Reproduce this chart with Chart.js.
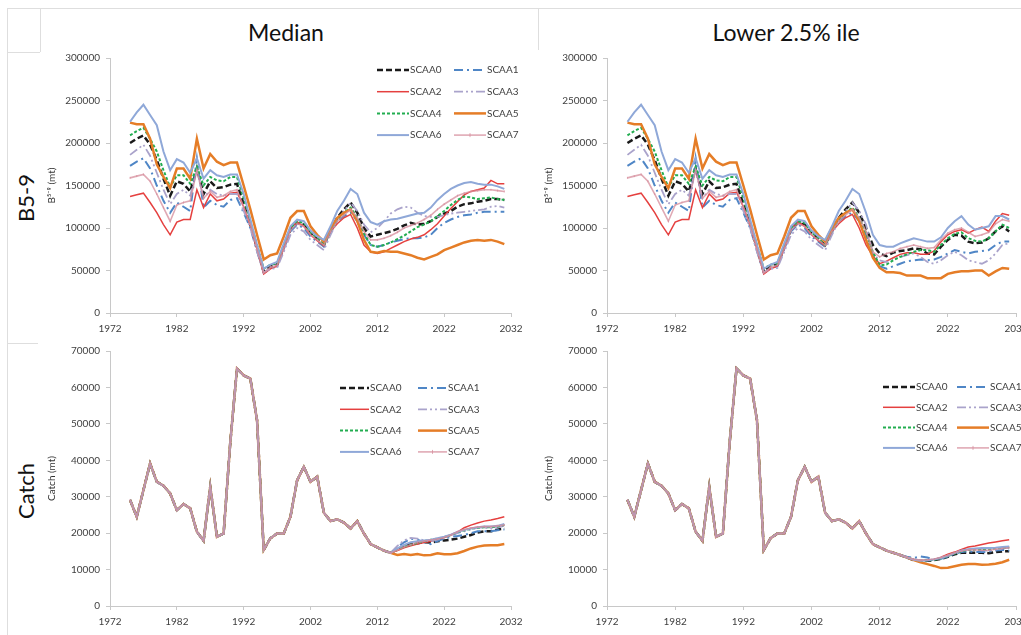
<!DOCTYPE html>
<html>
<head>
<meta charset="utf-8">
<script src="https://cdn.jsdelivr.net/npm/chart.js@4.4.0/dist/chart.umd.min.js"></script>
<style>
  body { margin: 0; background: #fff; width: 1021px; height: 635px; overflow: hidden; position: relative; font-family: Lato, "Open Sans", sans-serif; }
  canvas { position: absolute; }
  .title { position: absolute; font-size: 23px; color: #111; transform: translate(-50%, -50%); white-space: nowrap; }
  .rowlab { position: absolute; font-size: 22px; color: #111; transform: translate(-50%, -50%) rotate(-90deg); white-space: nowrap; }
  .ln { position: absolute; background: #dedede; }
</style>
</head>
<body>
<div class="ln" style="left:7px;top:8px;width:1014px;height:1px"></div>
<div class="ln" style="left:7px;top:8px;width:1px;height:627px"></div>
<div class="ln" style="left:40px;top:8px;width:1px;height:44px"></div>
<div class="ln" style="left:7px;top:52px;width:33px;height:1px"></div>
<div class="ln" style="left:538px;top:8px;width:1px;height:42px"></div>
<div class="ln" style="left:7px;top:343px;width:31px;height:1px"></div>

<div class="title" style="left:286px;top:32px">Median</div>
<div class="title" style="left:786px;top:32px">Lower 2.5% ile</div>
<div class="rowlab" style="left:25px;top:198px">B5-9</div>
<div class="rowlab" style="left:25px;top:491px">Catch</div>

<canvas id="b59Median" width="480" height="290" style="left:45px;top:48px"></canvas>
<canvas id="b59Lower" width="479" height="290" style="left:542px;top:48px"></canvas>
<canvas id="catchMedian" width="480" height="295" style="left:45px;top:340px"></canvas>
<canvas id="catchLower" width="479" height="295" style="left:542px;top:340px"></canvas>

<script>
// Séries et années
const seriesNames = ["SCAA0", "SCAA1", "SCAA2", "SCAA3", "SCAA4", "SCAA5", "SCAA6", "SCAA7"];
const years = Array.from({ length: 57 }, (_, i) => 1975 + i); // 1975..2031

// B5-9 (thousand mt), 1975-2010, one row per series (same in both panels)
const b59Hist = [
  [200,205,209,198,180,158,138,155,152,143,170,140,155,147,148,151,152,128,104,76,49,55,57,78,98,106,104,94,87,80,97,112,122,130,118,100],
  [173,178,182,170,150,132,118,130,125,120,182,124,132,127,125,133,135,118,100,73,47,53,55,75,96,104,100,90,84,78,95,108,114,118,108,92],
  [137,139,141,130,118,104,92,107,110,110,145,124,140,132,134,141,142,125,103,75,46,52,55,76,100,107,102,92,85,79,96,105,112,116,100,80],
  [186,192,198,185,165,145,128,140,145,138,168,135,145,140,138,140,140,120,100,72,48,52,53,72,92,100,96,86,80,74,92,108,120,130,120,104],
  [209,214,218,205,190,168,148,162,162,152,172,150,160,156,155,160,160,135,108,80,52,57,58,80,100,108,106,95,88,80,97,110,118,124,112,94],
  [224,222,222,205,175,160,147,170,170,158,205,170,187,178,174,177,177,150,122,92,63,68,70,90,112,120,120,102,92,84,100,112,118,122,108,86],
  [225,236,245,233,221,190,168,181,177,165,182,158,168,162,160,163,163,140,110,80,52,57,60,82,102,110,108,97,90,86,102,120,132,146,140,118],
  [159,161,163,155,140,124,108,127,130,132,168,135,143,136,138,143,145,125,104,75,47,54,56,76,97,105,102,92,86,80,96,108,115,122,112,96]
];

// B5-9 projections 2011-2031, median
const b59MedianProj = [
  [90,92,94,96,99,103,106,104,105,108,113,117,120,125,128,129,131,132,134,134,133],
  [80,78,80,83,85,87,88,88,89,92,100,106,110,113,115,116,118,119,119,119,119],
  [72,70,72,76,80,84,87,89,92,98,105,114,123,131,139,143,145,147,156,152,152],
  [95,100,108,117,122,125,124,118,114,113,113,115,117,118,119,120,121,122,125,126,124],
  [80,78,80,83,87,91,96,101,104,108,114,120,127,133,137,136,134,135,136,134,133],
  [72,71,73,72,72,70,68,65,63,66,69,74,77,80,83,85,86,85,86,84,81],
  [107,104,108,110,111,113,115,117,118,124,133,140,146,150,153,154,152,151,151,149,146],
  [86,86,88,91,95,100,103,106,110,115,122,128,133,138,141,143,144,145,145,144,143]
];

// B5-9 projections 2011-2031, lower 2.5%
const b59LowerProj = [
  [80,70,67,71,73,74,76,75,70,69,78,86,92,91,84,82,83,88,96,102,96],
  [68,55,52,55,58,61,62,63,62,63,66,70,74,72,70,72,73,74,80,84,84],
  [67,58,61,65,69,71,71,69,69,73,84,92,96,98,94,98,101,96,108,117,115],
  [70,62,60,63,66,68,70,66,60,58,62,68,72,68,62,60,58,62,70,80,82],
  [72,56,57,62,66,69,72,74,74,72,80,88,93,95,88,85,84,88,96,104,100],
  [65,53,48,48,47,44,44,44,41,41,41,46,48,49,49,50,50,44,49,53,52],
  [92,80,78,78,82,85,88,86,84,84,89,100,108,114,104,98,100,102,114,114,110],
  [72,66,70,72,76,78,80,78,76,77,86,94,98,100,95,90,92,95,105,110,108]
];

// Catch (thousand mt), 1975-2014 (same for all series)
const catchHist = [29.1,24.5,31.8,39.1,34.1,33.0,30.9,26.3,28.0,26.8,20.4,17.9,32.7,19.0,19.9,45.0,65.2,63.3,62.4,51.0,
  15.4,18.6,19.9,19.9,24.5,34.5,38.2,34.1,35.5,25.6,23.3,23.8,22.9,21.3,23.3,19.9,17.0,16.1,15.2,14.6];

// Catch projections 2015-2031, median
const catchMedianProj = [
  [15.5,16.5,17.0,17.2,17.5,17.4,17.8,18.0,18.2,18.5,19.0,19.5,20.2,20.5,20.5,21.0,21.2],
  [16.2,17.5,18.5,18.2,17.5,17.0,17.8,18.5,19.0,19.2,19.5,20.0,20.5,20.5,20.5,20.8,21.0],
  [15.2,16.0,16.5,17.0,17.4,17.8,18.3,18.8,19.5,20.3,21.5,22.2,22.8,23.3,23.6,24.0,24.5],
  [16.5,18.0,18.7,18.5,18.0,17.8,18.2,18.8,19.3,20.0,20.5,21.0,21.5,21.5,21.3,21.5,22.0],
  [15.5,16.3,16.8,17.3,17.8,18.2,18.5,18.9,19.5,20.2,20.8,21.2,21.5,21.6,21.6,21.8,22.3],
  [14.0,14.3,14.0,14.3,13.9,14.0,14.5,14.2,14.2,14.5,15.1,15.8,16.3,16.6,16.7,16.7,17.0],
  [15.8,16.8,17.5,17.8,18.0,18.2,18.6,19.0,19.6,20.3,20.9,21.3,21.6,21.8,21.8,22.0,22.5],
  [15.3,16.2,16.8,17.4,17.8,18.1,18.4,18.8,19.5,20.4,21.0,21.4,21.7,21.8,21.8,22.0,22.2]
];

// Catch projections 2015-2031, lower 2.5%
const catchLowerProj = [
  [14.0,13.3,12.6,12.3,12.4,12.6,12.9,13.5,14.2,14.6,14.6,14.6,14.6,14.5,14.8,15.0,15.0],
  [14.1,13.5,13.2,13.6,13.3,12.8,13.0,13.6,14.4,14.8,15.0,14.8,14.8,14.9,15.2,15.4,15.2],
  [14.0,13.3,12.8,12.5,12.6,12.8,13.4,14.2,14.8,15.5,16.2,16.5,16.9,17.3,17.6,17.9,18.2],
  [14.0,13.4,12.8,12.6,12.6,12.8,13.2,13.8,14.6,15.2,15.5,15.5,15.3,15.2,15.5,15.8,16.0],
  [14.0,13.3,12.7,12.4,12.5,12.7,13.1,13.7,14.4,15.0,15.4,15.5,15.6,15.6,15.8,16.0,16.1],
  [14.0,13.3,12.6,12.0,11.5,11.0,10.4,10.5,10.9,11.3,11.5,11.5,11.3,11.4,11.6,12.0,12.7],
  [14.0,13.3,12.7,12.4,12.5,12.8,13.2,13.8,14.5,15.2,15.6,15.8,15.9,15.9,16.0,16.2,16.3],
  [14.0,13.4,12.8,12.6,12.7,12.9,13.3,13.9,14.6,15.1,15.4,15.4,15.3,15.3,15.6,15.8,16.0]
];

// Styles des séries
const seriesColors = ["#1a1a1a", "#4f86c6", "#e5403f", "#aaa3cb", "#22ad50", "#e57d27", "#8fa8d8", "rgba(214,140,155,0.75)"];
const seriesDash = [[6, 3], [9, 4, 2, 4], [], [9, 3, 2, 3, 2, 3], [3, 2], [], [], []];
const seriesWidth = [2.5, 2, 1.5, 1.8, 2, 2.5, 2, 1.6];

function buildDatasets(hist, proj) {
  return seriesNames.map((name, i) => {
    const values = (Array.isArray(hist[0]) ? hist[i] : hist).concat(proj[i]);
    return {
      label: name,
      data: years.map((yr, k) => ({ x: yr, y: values[k] * 1000 })),
      borderColor: seriesColors[i],
      borderWidth: seriesWidth[i],
      borderDash: seriesDash[i],
      pointRadius: i === 7 ? 1 : 0,
      pointStyle: "line",
      pointRotation: 90,
      pointBorderWidth: 1,
      pointBorderColor: seriesColors[i],
      tension: 0,
      order: 7 - i,
    };
  });
}

// Légende en grille 2 colonnes x 4 lignes
const gridLegend = {
  id: "gridLegend",
  afterDraw(chart, args, opts) {
    const ctx = chart.ctx;
    ctx.save();
    ctx.font = "10px Lato, sans-serif";
    ctx.textBaseline = "middle";
    chart.data.datasets.forEach((ds, i) => {
      const x = opts.x + (i % 2) * opts.colW;
      const y = opts.y + Math.floor(i / 2) * opts.rowH;
      ctx.save();
      ctx.strokeStyle = ds.borderColor;
      ctx.lineWidth = ds.borderWidth;
      ctx.setLineDash(ds.borderDash);
      ctx.beginPath();
      ctx.moveTo(x, y);
      ctx.lineTo(x + opts.lineW, y);
      ctx.stroke();
      if (ds.pointRadius) {
        ctx.setLineDash([]);
        ctx.lineWidth = 1;
        ctx.beginPath();
        ctx.moveTo(x + opts.lineW / 2, y - 2);
        ctx.lineTo(x + opts.lineW / 2, y + 2);
        ctx.stroke();
      }
      ctx.restore();
      ctx.fillStyle = "#404040";
      ctx.fillText(ds.label, x + opts.lineW + 1, y);
    });
    ctx.restore();
  },
};

function buildChart(id, datasets, yMax, yStep, yTitle, xAxisH, pad, legend) {
  const ctx = document.getElementById(id).getContext("2d");
  return new Chart(ctx, {
    type: "line",
    data: { datasets },
    plugins: [gridLegend],
    options: {
      responsive: false,
      animation: false,
      layout: { padding: pad },
      scales: {
        x: {
          type: "linear",
          min: 1972,
          max: 2032,
          ticks: { stepSize: 10, color: "#404040", font: { size: 10, family: "Lato" }, padding: 6, maxRotation: 0, callback: (v) => String(v) },
          grid: { drawOnChartArea: false, drawTicks: true, tickLength: 4, color: "#c8c8c8" },
          border: { color: "#c8c8c8" },
          afterFit: (s) => { s.height = xAxisH; s.paddingLeft = 0; s.paddingRight = 0; },
        },
        y: {
          min: 0,
          max: yMax,
          ticks: { stepSize: yStep, color: "#404040", font: { size: 10, family: "Lato" }, padding: 6, callback: (v) => String(v) },
          grid: { drawOnChartArea: false, drawTicks: true, tickLength: 4, color: "#c8c8c8" },
          border: { color: "#c8c8c8" },
          title: { display: true, text: yTitle, color: "#333", font: { size: 10, family: "Lato" }, padding: { top: 1, bottom: 0 } },
          afterFit: (s) => { s.width = 65; s.paddingTop = 0; s.paddingBottom = 0; },
        },
      },
      plugins: {
        legend: { display: false },
        tooltip: { enabled: false },
        gridLegend: legend,
      },
    },
  });
}

buildChart("b59Median", buildDatasets(b59Hist, b59MedianProj), 300000, 50000, "B\u2075\u207B\u2079 (mt)", 25,
  { left: 0, right: 14, top: 10, bottom: 0 }, { x: 332, y: 22, colW: 77, rowH: 21.7, lineW: 32 });
buildChart("b59Lower", buildDatasets(b59Hist, b59LowerProj), 300000, 50000, "B\u2075\u207B\u2079 (mt)", 25,
  { left: 0, right: 4, top: 10, bottom: 0 }, false);
buildChart("catchMedian", buildDatasets(catchHist, catchMedianProj), 70000, 10000, "Catch (mt)", 29,
  { left: 0, right: 14, top: 11, bottom: 0 }, { x: 295, y: 48, colW: 78, rowH: 21.3, lineW: 29 });
buildChart("catchLower", buildDatasets(catchHist, catchLowerProj), 70000, 10000, "Catch (mt)", 29,
  { left: 0, right: 4, top: 11, bottom: 0 }, { x: 341, y: 47, colW: 74, rowH: 20.3, lineW: 32 });
</script>
</body>
</html>
